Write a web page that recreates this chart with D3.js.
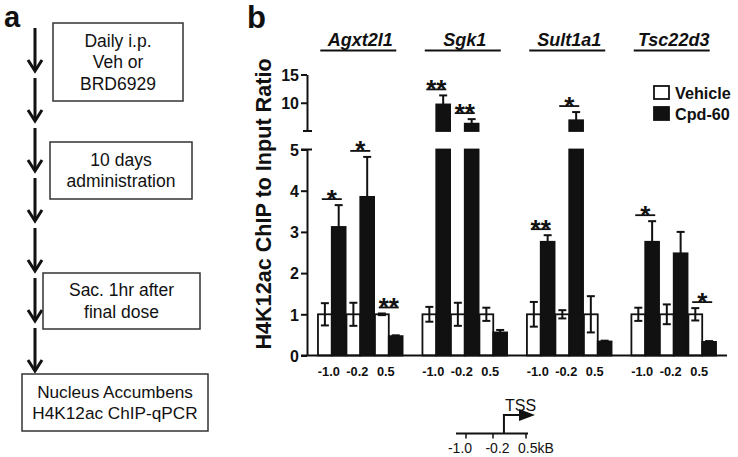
<!DOCTYPE html>
<html><head><meta charset="utf-8">
<script src="https://cdn.jsdelivr.net/npm/d3@7"></script>
<style>
body{margin:0;background:#fff}
svg{display:block}
text{font-family:Arial,"Liberation Sans",sans-serif;fill:#111}
</style>
</head><body>
<svg id="c" width="738" height="457"></svg>
<script>
// ---------- data ----------
const genes = ["Agxt2l1", "Sgk1", "Sult1a1", "Tsc22d3"];
const positions = ["-1.0", "-0.2", "0.5"];
const seriesNames = ["Vehicle", "Cpd-60"];
const vehicleMean = [[1, 1, 1], [1, 1, 1], [1, 1, 1], [1, 1, 1]];
const vehicleErr  = [[0.27, 0.28, 0.02], [0.18, 0.28, 0.16], [0.30, 0.10, 0.44], [0.16, 0.24, 0.15]];
const cpdMean     = [[3.12, 3.85, 0.47], [9.7, 6.3, 0.56], [2.76, 6.9, 0.34], [2.76, 2.48, 0.33]];
const cpdErr      = [[0.53, 0.97, 0.02], [1.6, 0.8, 0.06], [0.16, 1.45, 0.02], [0.50, 0.52, 0.02]];
const sigLabels   = [["*", "*", "**"], ["**", "**", ""], ["**", "*", ""], ["*", "", "*"]];
const yTicksLower = [0, 1, 2, 3, 4, 5];
const yTicksUpper = [10, 15];
const yAxisTitle = "H4K12ac ChIP to Input Ratio";
const steps = [["Daily i.p.", "Veh or", "BRD6929"], ["10 days", "administration"], ["Sac. 1hr after", "final dose"], ["Nucleus Accumbens", "H4K12ac ChIP-qPCR"]];
const tssTicks = [-1.0, -0.2, 0.5];
const tssTickLabels = ["-1.0", "-0.2", "0.5kB"];

// ---------- setup ----------
const svg = d3.select("#c");
const INK = "#111";

// ---------- panel a ----------
svg.append("text").attr("x", 4).attr("y", 27).attr("font-size", 29).attr("font-weight", "bold").text("a");
const arrowX = 35;
const arrowStarts = d3.range(7).map(i => 28 + i * 50);
const ag = svg.append("g").attr("stroke", INK).attr("stroke-width", 3).attr("fill", "none");
arrowStarts.forEach(s => {
  const tip = s + 43;
  ag.append("line").attr("x1", arrowX).attr("x2", arrowX).attr("y1", s).attr("y2", tip - 1);
  ag.append("path").attr("d", `M${arrowX - 7},${tip - 11}L${arrowX},${tip}L${arrowX + 7},${tip - 11}`);
});
const boxes = [
  {x: 53, y: 23, w: 130, h: 78, fs: 17.5},
  {x: 50, y: 142, w: 142, h: 57, fs: 17.5},
  {x: 43, y: 273, w: 157, h: 56, fs: 17.5},
  {x: 22, y: 374, w: 186, h: 57, fs: 17.2}
];
steps.forEach((lines, i) => {
  const b = boxes[i];
  svg.append("rect").attr("x", b.x).attr("y", b.y).attr("width", b.w).attr("height", b.h)
    .attr("fill", "#fff").attr("stroke", "#333").attr("stroke-width", 1.5);
  const lh = 21.5;
  const y0 = b.y + b.h / 2 - (lines.length - 1) * lh / 2 + 6;
  lines.forEach((t, j) => {
    svg.append("text").attr("x", b.x + b.w / 2).attr("y", y0 + j * lh)
      .attr("text-anchor", "middle").attr("font-size", b.fs).attr("fill", "#222").text(t);
  });
});

// ---------- panel b ----------
svg.append("text").attr("x", 247).attr("y", 28).attr("font-size", 31).attr("font-weight", "bold").text("b");

const axisX = 307, baseY = 355.5, rightX = 727;
const yLow = d3.scaleLinear().domain([0, 5]).range([baseY, 149.5]);
const yHigh = d3.scaleLinear().domain([5, 15]).range([131, 74.5]);
const yf = v => v <= 5 ? yLow(v) : yHigh(v);

const x0 = d3.scaleBand().domain(genes).range([axisX, rightX]).paddingInner(0.19).paddingOuter(0.105);
const x1 = d3.scaleBand().domain(positions).range([0, x0.bandwidth()]).paddingInner(0.03);
const x2 = d3.scaleBand().domain(seriesNames).range([0, x1.bandwidth()]);

// gene titles
genes.forEach(g => {
  const cx = x0(g) + x0.bandwidth() / 2;
  svg.append("text").attr("x", cx).attr("y", 46).attr("text-anchor", "middle")
    .attr("font-size", 18).attr("font-weight", "bold").attr("font-style", "italic").text(g);
  svg.append("line").attr("x1", cx - 40).attr("x2", cx + 36).attr("y1", 50.5).attr("y2", 50.5)
    .attr("stroke", INK).attr("stroke-width", 2);
});

// y axes
const axLow = svg.append("g").attr("transform", `translate(${axisX},0)`)
  .call(d3.axisLeft(yLow).tickValues(yTicksLower).tickSize(6).tickSizeOuter(0).tickFormat(d3.format("d")));
const axHigh = svg.append("g").attr("transform", `translate(${axisX},0)`)
  .call(d3.axisLeft(yHigh).tickValues(yTicksUpper).tickSize(6).tickSizeOuter(0).tickFormat(d3.format("d")));
[axLow, axHigh].forEach(a => {
  a.select(".domain").attr("stroke", INK).attr("stroke-width", 2);
  a.selectAll(".tick line").attr("stroke", INK).attr("stroke-width", 2);
  a.selectAll(".tick text").attr("font-size", 16).attr("font-weight", "bold").attr("fill", INK)
    .attr("font-family", "Arial, 'Liberation Sans', sans-serif").attr("x", -8).attr("dy", "0.36em");
});
// break caps
svg.append("line").attr("x1", axisX - 4).attr("x2", axisX + 5).attr("y1", yHigh(5)).attr("y2", yHigh(5)).attr("stroke", INK).attr("stroke-width", 2);
svg.append("line").attr("x1", axisX - 6).attr("x2", axisX + 5).attr("y1", yLow(5)).attr("y2", yLow(5)).attr("stroke", INK).attr("stroke-width", 2);

// y title
svg.append("text").attr("transform", `translate(270.5,204) rotate(-90)`).attr("text-anchor", "middle")
  .attr("font-size", 21.6).attr("font-weight", "bold").text(yAxisTitle);

// bars
const bars = svg.append("g");
const errs = svg.append("g").attr("stroke", INK).attr("stroke-width", 2);
function drawBar(x, w, v, fill) {
  const r = (y1, y2) => bars.append("rect").attr("x", x).attr("width", w).attr("y", y1).attr("height", y2 - y1)
    .attr("fill", fill).attr("stroke", INK).attr("stroke-width", 1.8);
  if (v <= 5) r(yLow(v), yLow(0));
  else { r(yLow(5), yLow(0)); r(yHigh(v), yHigh(5)); }
}
function drawErr(cx, v, e, both) {
  const top = yf(v + e), mid = yf(v), bot = yf(v - e);
  errs.append("line").attr("x1", cx).attr("x2", cx).attr("y1", top).attr("y2", both ? bot : mid);
  errs.append("line").attr("x1", cx - 4).attr("x2", cx + 4).attr("y1", top).attr("y2", top);
  if (both) errs.append("line").attr("x1", cx - 4).attr("x2", cx + 4).attr("y1", bot).attr("y2", bot);
}
genes.forEach((g, gi) => {
  positions.forEach((p, pi) => {
    const px = x0(g) + x1(p);
    const w = x2.bandwidth();
    const xv = px + x2("Vehicle"), xc = px + x2("Cpd-60");
    drawBar(xv, w, vehicleMean[gi][pi], "#fff");
    drawBar(xc, w, cpdMean[gi][pi], INK);
    drawErr(xv + w / 2, vehicleMean[gi][pi], vehicleErr[gi][pi], true);
    drawErr(xc + w / 2, cpdMean[gi][pi], cpdErr[gi][pi], false);
    // x labels
    svg.append("text").attr("x", px + x1.bandwidth() / 2 - 3).attr("y", 376).attr("text-anchor", "middle")
      .attr("font-size", 12.8).attr("font-weight", "bold").text(p);
    // significance
    const s = sigLabels[gi][pi];
    if (s) {
      const topY = Math.min(yf(vehicleMean[gi][pi] + vehicleErr[gi][pi]), yf(cpdMean[gi][pi] + cpdErr[gi][pi]));
      const ly = topY - 6;
      const cx = px + x1.bandwidth() / 2;
      svg.append("line").attr("x1", cx - 10).attr("x2", cx + 10).attr("y1", ly).attr("y2", ly)
        .attr("stroke", INK).attr("stroke-width", 1.8);
      svg.append("text").attr("x", cx).attr("y", ly + 8.5).attr("text-anchor", "middle")
        .attr("font-size", 26).attr("font-weight", "bold").text(s);
    }
  });
});

// x baseline
svg.append("line").attr("x1", axisX - 6).attr("x2", rightX).attr("y1", baseY).attr("y2", baseY)
  .attr("stroke", INK).attr("stroke-width", 2.2);

// legend
const lg = [{y: 86, fill: "#fff"}, {y: 107, fill: INK}];
seriesNames.forEach((n, i) => {
  svg.append("rect").attr("x", 654).attr("y", lg[i].y).attr("width", 15).attr("height", 13)
    .attr("fill", lg[i].fill).attr("stroke", INK).attr("stroke-width", 1.8);
  svg.append("text").attr("x", 675).attr("y", lg[i].y + 13).attr("font-size", 16.2).attr("font-weight", "bold").text(n);
});

// TSS diagram
const tx = d3.scaleLinear().domain([-1.0, -0.2, 0.5]).range([466, 493, 526]);
const tssY = 433.5;
const tg = svg.append("g").attr("stroke", INK).attr("stroke-width", 2).attr("fill", "none");
tg.append("line").attr("x1", 456).attr("x2", 528).attr("y1", tssY).attr("y2", tssY);
tssTicks.forEach(t => tg.append("line").attr("x1", tx(t)).attr("x2", tx(t)).attr("y1", tssY).attr("y2", tssY + 5).attr("stroke-width", 1.5));
const labelShift = [-6, 4.5, 0];
tssTicks.forEach((t, i) => svg.append("text").attr("x", tx(t) + labelShift[i] - (i === 2 ? 8 : 0)).attr("y", 452.5)
  .attr("text-anchor", i === 2 ? "start" : "middle").attr("font-size", 14).attr("fill", "#333").text(tssTickLabels[i]));
const tssX = tx(0) + 1.5;
tg.append("path").attr("d", `M${tssX},${tssY}V415H521`);
svg.append("path").attr("d", `M519,409L535,415L519,421Z`).attr("fill", INK);
svg.append("text").attr("x", 520.5).attr("y", 410.5).attr("text-anchor", "middle").attr("font-size", 16).attr("fill", "#222").text("TSS");
</script>
</body></html>
